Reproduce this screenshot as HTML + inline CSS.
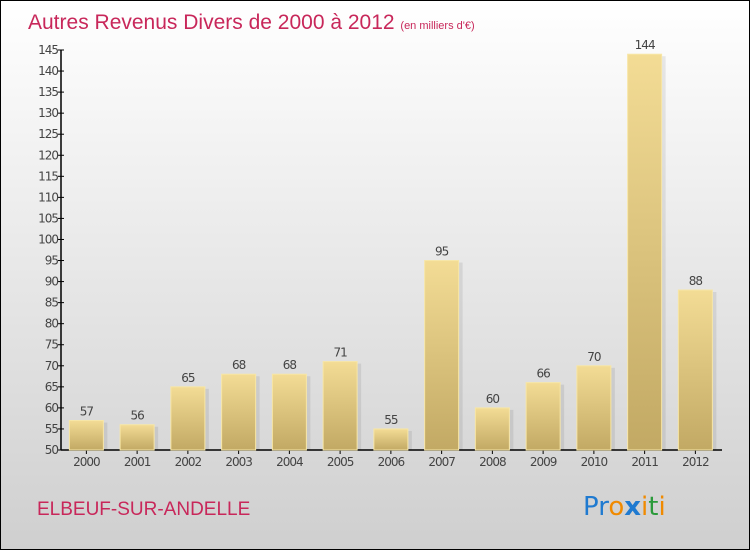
<!DOCTYPE html>
<html><head><meta charset="utf-8"><style>
body{margin:0;width:750px;height:550px;overflow:hidden;font-family:"DejaVu Sans","Liberation Sans",sans-serif;}
#frame{position:absolute;left:0;top:0;width:748px;height:548px;border:1px solid #000;background:linear-gradient(#ffffff,#cfcfcf);}
</style></head><body>
<div id="frame">
<svg width="750" height="550" style="position:absolute;left:-1px;top:-1px">
<defs><linearGradient id="bg" x1="0" y1="0" x2="0" y2="1"><stop offset="0" stop-color="#f3dc95"/><stop offset="1" stop-color="#c2a964"/></linearGradient></defs>
<text x="28" y="29" font-size="21" fill="#c8275a" font-family="Liberation Sans, sans-serif">Autres Revenus Divers de 2000 à 2012 <tspan font-size="11">(en milliers d'€)</tspan></text>
<g id="axes"></g>
<g id="bars"></g>
<text x="37" y="515" font-size="19" fill="#c8275a" font-family="Liberation Sans, sans-serif">ELBEUF-SUR-ANDELLE</text>
<text x="583" y="515" font-size="26" font-family="DejaVu Sans, sans-serif"><tspan fill="#1f7ad0">Pr</tspan><tspan fill="#f08a00">o</tspan><tspan fill="#1f7ad0" font-weight="bold">x</tspan><tspan fill="#f08a00">i</tspan><tspan fill="#2a9a3a">t</tspan><tspan fill="#f08a00">i</tspan></text>
</svg></div>
<script>
const years=["2000","2001","2002","2003","2004","2005","2006","2007","2008","2009","2010","2011","2012"];
const values=[57,56,65,68,68,71,55,95,60,66,70,144,88];
const yTicks=[50,55,60,65,70,75,80,85,90,95,100,105,110,115,120,125,130,135,140,145];
const NS="http://www.w3.org/2000/svg";
const x0=61,y0=450,yTop=50,step=50.75,bw=34;
const y=v=>y0-(v-50)*(y0-yTop)/95;
const xc=i=>x0+step*(i+0.5);
function mk(t,a,p,txt){const e=document.createElementNS(NS,t);for(const k in a)e.setAttribute(k,a[k]);if(txt!=null)e.textContent=txt;p.appendChild(e);return e;}
const ax=document.getElementById('axes'),bg=document.getElementById('bars');
const yl=mk('line',{x1:x0,y1:yTop,x2:x0,y2:y0,stroke:'#000','stroke-width':1.5},ax);

const xl=mk('line',{x1:x0,y1:y0,x2:722,y2:y0,stroke:'#000','stroke-width':1.5},ax);

yTicks.forEach(t=>{
 mk('line',{x1:x0-3,y1:y(t),x2:x0+3,y2:y(t),stroke:'#000'},ax);
 const tx=mk('text',{x:x0-3,y:y(t)+4,'font-size':12,'text-anchor':'end',fill:'#444','letter-spacing':'-1'},ax,String(t));
 
});
years.forEach((yr,i)=>{
 const c=xc(i),v=values[i];
 mk('rect',{x:c-bw/2+4,y:y(v)+2,width:bw,height:y0-y(v)-2,fill:'rgba(0,0,0,0.08)'},bg);
 const r=mk('rect',{x:c-bw/2,y:y(v),width:bw,height:y0-y(v),fill:'url(#bg)',stroke:'#f7e6a6','stroke-width':1},bg);
 
 const vl=mk('text',{x:c,y:y(v)-5,'font-size':12,'text-anchor':'middle',fill:'#444','letter-spacing':'-1'},bg,String(v));
 
 mk('line',{x1:c,y1:y0,x2:c,y2:y0+4,stroke:'#000'},ax);
 const xt=mk('text',{x:c,y:y0+16,'font-size':12,'text-anchor':'middle',fill:'#444','letter-spacing':'-1'},ax,yr);
 
});
</script>
</body></html>
